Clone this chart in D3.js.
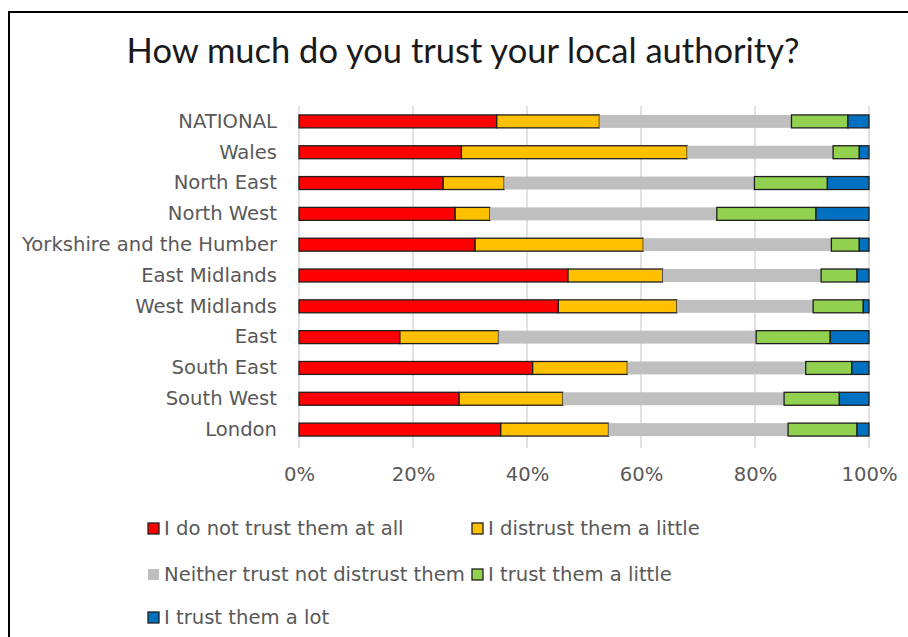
<!DOCTYPE html>
<html>
<head>
<meta charset="utf-8">
<script src="https://cdn.jsdelivr.net/npm/d3@7"></script>
<style>
  body { margin: 0; background: #fff; }
  svg { display: block; }
</style>
</head>
<body>
<svg id="chart" width="908" height="637"></svg>
<script>
// data (percent of respondents)
const regions = ["NATIONAL", "Wales", "North East", "North West", "Yorkshire and the Humber",
  "East Midlands", "West Midlands", "East", "South East", "South West", "London"];
const notAtAll    = [34.7, 28.5, 25.3, 27.4, 30.9, 47.2, 45.5, 17.7, 41.0, 28.1, 35.4];
const distrustLit = [18.0, 39.6, 10.7,  6.1, 29.5, 16.6, 20.8, 17.3, 16.6, 18.2, 18.9];
const neither     = [33.7, 25.6, 43.9, 39.8, 33.0, 27.8, 23.9, 45.2, 31.3, 38.8, 31.5];
const trustLit    = [ 9.9,  4.6, 12.8, 17.4,  4.9,  6.3,  8.8, 13.0,  8.1,  9.7, 12.1];
const trustLot    = [ 3.7,  1.7,  7.3,  9.3,  1.7,  2.1,  1.0,  6.8,  3.0,  5.2,  2.1];
const seriesNames = ["I do not trust them at all", "I distrust them a little",
  "Neither trust not distrust them", "I trust them a little", "I trust them a lot"];
const colors = ["#ff0000", "#ffc000", "#bfbfbf", "#92d050", "#0070c0"];
const tickVals = [0, 0.2, 0.4, 0.6, 0.8, 1];

const svg = d3.select("#chart");
const plotLeft = 299, plotRight = 869, plotTop = 106, plotBottom = 445;
const labelFont = "'DejaVu Sans', Verdana, sans-serif";

// frame (right/bottom edges fall outside the picture)
svg.append("rect")
  .attr("x", 9).attr("y", 12)
  .attr("width", 940).attr("height", 660)
  .attr("fill", "#fff").attr("stroke", "#000").attr("stroke-width", 2);

// title, sized to span the same width as the reference
const title = svg.append("text")
  .attr("x", 463).attr("y", 63)
  .attr("text-anchor", "middle")
  .style("font-family", "Lato, 'Open Sans', sans-serif")
  .style("font-size", "30px")
  .attr("fill", "#1a1a1a")
  .text("How much do you trust your local authority?");
const tw = title.node().getComputedTextLength();
title.style("font-size", (30 * 673 / tw).toFixed(1) + "px");

// pick a label size so the longest region name is as wide as in the reference
const probe = svg.append("text")
  .style("font-family", labelFont).style("font-size", "16px")
  .text("Yorkshire and the Humber");
const labelSize = (16 * 255 / probe.node().getComputedTextLength()).toFixed(1) + "px";
probe.remove();

// build rows and stack them as shares of 100
const rows = regions.map((r, i) => {
  const v = [notAtAll[i], distrustLit[i], neither[i], trustLit[i], trustLot[i]];
  const tot = d3.sum(v);
  const o = { region: r };
  seriesNames.forEach((s, j) => o[s] = v[j] / tot);
  return o;
});
const stacked = d3.stack().keys(seriesNames)(rows);

const x = d3.scaleLinear().domain([0, 1]).range([plotLeft, plotRight]);
const y = d3.scaleBand().domain(regions).range([plotTop, plotBottom])
  .paddingInner(0.58).paddingOuter(0.29);

// vertical gridlines
svg.append("g")
  .selectAll("line")
  .data(tickVals)
  .join("line")
  .attr("x1", d => x(d)).attr("x2", d => x(d))
  .attr("y1", plotTop).attr("y2", plotBottom + 3)
  .attr("stroke", "#d9d9d9").attr("stroke-width", 1.5);

// x axis labels
const xAxis = svg.append("g")
  .attr("transform", `translate(0,${plotBottom})`)
  .call(d3.axisBottom(x).tickValues(tickVals).tickFormat(d3.format(".0%")).tickSize(0).tickPadding(22));
xAxis.select(".domain").remove();
xAxis.selectAll("text")
  .style("font-family", labelFont)
  .style("font-size", labelSize)
  .attr("fill", "#595959");

// category labels
const yAxis = svg.append("g")
  .attr("transform", `translate(${plotLeft},0)`)
  .call(d3.axisLeft(y).tickSize(0).tickPadding(22));
yAxis.select(".domain").remove();
yAxis.selectAll("text")
  .style("font-family", labelFont)
  .style("font-size", labelSize)
  .attr("fill", "#595959");

// bars
svg.append("g")
  .selectAll("g")
  .data(stacked)
  .join("g")
  .attr("fill", (d, i) => colors[i])
  .attr("stroke", (d, i) => i === 2 ? "none" : "#1f1f1f")
  .attr("stroke-width", 1.3)
  .selectAll("rect")
  .data(d => d)
  .join("rect")
  .attr("x", d => x(d[0]))
  .attr("y", d => y(d.data.region))
  .attr("width", d => x(d[1]) - x(d[0]))
  .attr("height", y.bandwidth());

// legend
const legendPos = [[148, 528], [472, 528], [148, 574], [472, 574], [148, 617]];
const legend = svg.append("g")
  .selectAll("g")
  .data(seriesNames)
  .join("g")
  .attr("transform", (d, i) => `translate(${legendPos[i][0]},${legendPos[i][1]})`);
legend.append("rect")
  .attr("x", 0).attr("y", -5)
  .attr("width", 11).attr("height", 11)
  .attr("fill", (d, i) => colors[i])
  .attr("stroke", (d, i) => i === 2 ? "none" : "#1f1f1f")
  .attr("stroke-width", 1.3);
legend.append("text")
  .attr("x", 16).attr("y", 0)
  .attr("dy", "0.35em")
  .style("font-family", labelFont)
  .style("font-size", labelSize)
  .attr("fill", "#595959")
  .text(d => d);
</script>
</body>
</html>
